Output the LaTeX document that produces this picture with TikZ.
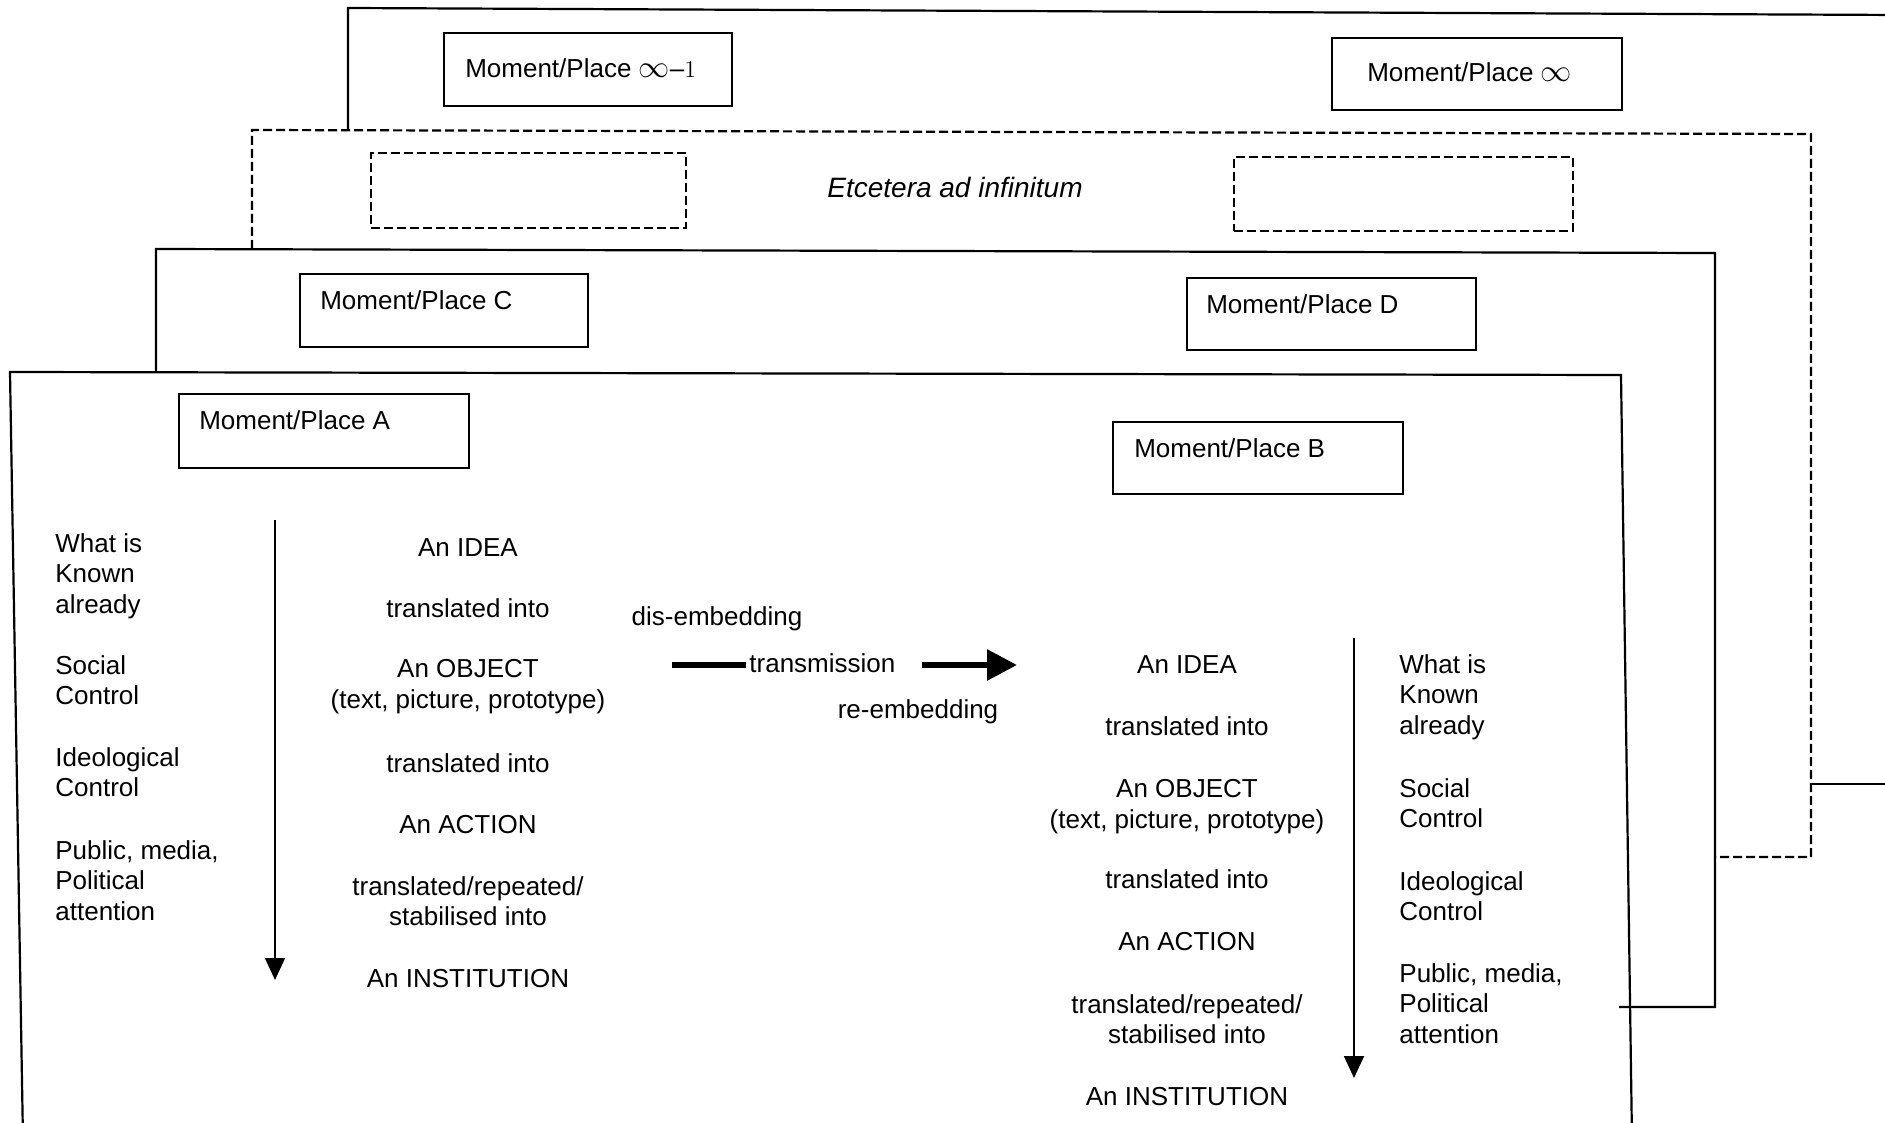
\documentclass[tikz,border=0pt]{standalone}
\usepackage{fontspec}
\setmainfont{Liberation Sans}
\usetikzlibrary{arrows.meta,calc}

\newcommand{\infsym}{\scalebox{1.3}{$\infty$}}

\begin{document}
\begin{tikzpicture}[x=0.5pt,y=-0.5pt,
  every node/.style={font=\fontsize{13}{15.25}\selectfont},
  frame/.style={line width=1.1pt, line join=miter},
  dframe/.style={line width=1.1pt, dash pattern=on 4.5pt off 2pt},
  mbox/.style 2 args={draw, line width=1.1pt, inner sep=0pt,
    minimum width=#1*0.5pt, minimum height=#2*0.5pt},
  dbox/.style 2 args={draw, line width=1.1pt, dash pattern=on 4.5pt off 2pt,
    inner sep=0pt, minimum width=#1*0.5pt, minimum height=#2*0.5pt},
  lbl/.style={anchor=base west, inner sep=0pt},
  col/.style={anchor=base, align=center, inner sep=0pt},
  side/.style={anchor=base west, align=left, inner sep=0pt},
  flow/.style={line width=0.9pt, -{Triangle[length=11pt,width=10pt]}},
  bigarrow/.style={line width=3pt, -{Triangle[length=15pt,width=15pt]}},
  heavy/.style={line width=3pt}
]
\useasboundingbox (0,0) rectangle (1885,1123);
\clip (0,0) rectangle (1885,1123);
\fill[white] (0,0) rectangle (1885,1123);

% stacked frames, drawn back to front (only their visible edges)
\draw[frame] (348,130) -- (348,8) -- (1900,15);
\draw[frame] (1811,784) -- (1900,784);
\draw[dframe] (252,249) -- (252,130) -- (1811,134) -- (1811,857) -- (1715,857);
\draw[frame] (156,372) -- (156,249) -- (1715,253) -- (1715,1007) -- (1619,1007);
\draw[frame] (23,1140) -- (10,372) -- (1621,375) -- (1632,1140);

% frame "infinity"
\node[mbox={288}{73}] (pInfm) at (588,69.5) {};
\node[lbl] (pInfmLab) at ($(pInfm.north west)+(22,46)$) {Moment/Place \infsym\textendash$1$};
\node[mbox={290}{72}] (pInf) at (1477,74) {};
\node[lbl] (pInfLab) at ($(pInf.north west)+(36,45)$) {Moment/Place \infsym};

% frame "etcetera"
\node[dbox={315}{75}] (pEtcL) at (528.5,190.5) {};
\node[dbox={339}{74}] (pEtcR) at (1403.5,194) {};
\node[anchor=base, inner sep=0pt, font=\fontsize{14}{16}\selectfont\itshape] (etc) at (955,198) {Etcetera ad infinitum};

% frame C/D
\node[mbox={288}{73}] (pC) at (444,310.5) {};
\node[lbl] (pCLab) at ($(pC.north west)+(21,37)$) {Moment/Place C};
\node[mbox={289}{72}] (pD) at (1331.5,314) {};
\node[lbl] (pDLab) at ($(pD.north west)+(20,37)$) {Moment/Place D};

% frame A/B
\node[mbox={290}{74}] (pA) at (324,431) {};
\node[lbl] (pALab) at ($(pA.north west)+(21,37)$) {Moment/Place A};
\node[mbox={290}{72}] (pB) at (1258,458) {};
\node[lbl] (pBLab) at ($(pB.north west)+(22,37)$) {Moment/Place B};

% moment/place A: contexts (positions give the last line's baseline)
\node[side] (knownA) at (55,613) {What is\\Known\\already};
\node[side] (socialA) at (55,704.5) {Social\\Control};
\node[side] (ideoA) at (55,796.5) {Ideological\\Control};
\node[side] (publicA) at (55,920) {Public, media,\\Political\\attention};

\coordinate (flowAtop) at (275,520);
\coordinate (flowAend) at (275,980);
\draw[flow] (flowAtop) -- (flowAend);

% moment/place A: chain of translations
\node[col] (ideaA) at (468,556) {An IDEA};
\node[col] (tr1A) at (468,617) {translated into};
\node[col] (objA) at (468,708) {An OBJECT\\(text, picture, prototype)};
\node[col] (tr2A) at (468,772) {translated into};
\node[col] (actA) at (468,833) {An ACTION};
\node[col] (tr3A) at (468,925.5) {translated/repeated/\\stabilised into};
\node[col] (instA) at (468,987) {An INSTITUTION};

% transfer between moments/places
\node[col] (disemb) at (717,625) {dis-embedding};
\node[anchor=base west, inner sep=1.5pt] (trans) at (746,672) {transmission};
\node[col] (reemb) at (918,718) {re-embedding};
\coordinate (transL) at (672,665);
\draw[heavy] (transL) -- (transL -| trans.west);
\coordinate (transR1) at (922,665);
\coordinate (transR2) at (1017,665);
\draw[bigarrow] (transR1) -- (transR2);

% moment/place B: chain of translations
\node[col] (ideaB) at (1187,673) {An IDEA};
\node[col] (tr1B) at (1187,735) {translated into};
\node[col] (objB) at (1187,828) {An OBJECT\\(text, picture, prototype)};
\node[col] (tr2B) at (1187,888) {translated into};
\node[col] (actB) at (1187,950) {An ACTION};
\node[col] (tr3B) at (1187,1043.5) {translated/repeated/\\stabilised into};
\node[col] (instB) at (1187,1105) {An INSTITUTION};

\coordinate (flowBtop) at (1354,638);
\coordinate (flowBend) at (1354,1078);
\draw[flow] (flowBtop) -- (flowBend);

% moment/place B: contexts (positions give the last line's baseline)
\node[side] (knownB) at (1399,734) {What is\\Known\\already};
\node[side] (socialB) at (1399,827.5) {Social\\Control};
\node[side] (ideoB) at (1399,920.5) {Ideological\\Control};
\node[side] (publicB) at (1399,1043) {Public, media,\\Political\\attention};
\end{tikzpicture}
\end{document}
